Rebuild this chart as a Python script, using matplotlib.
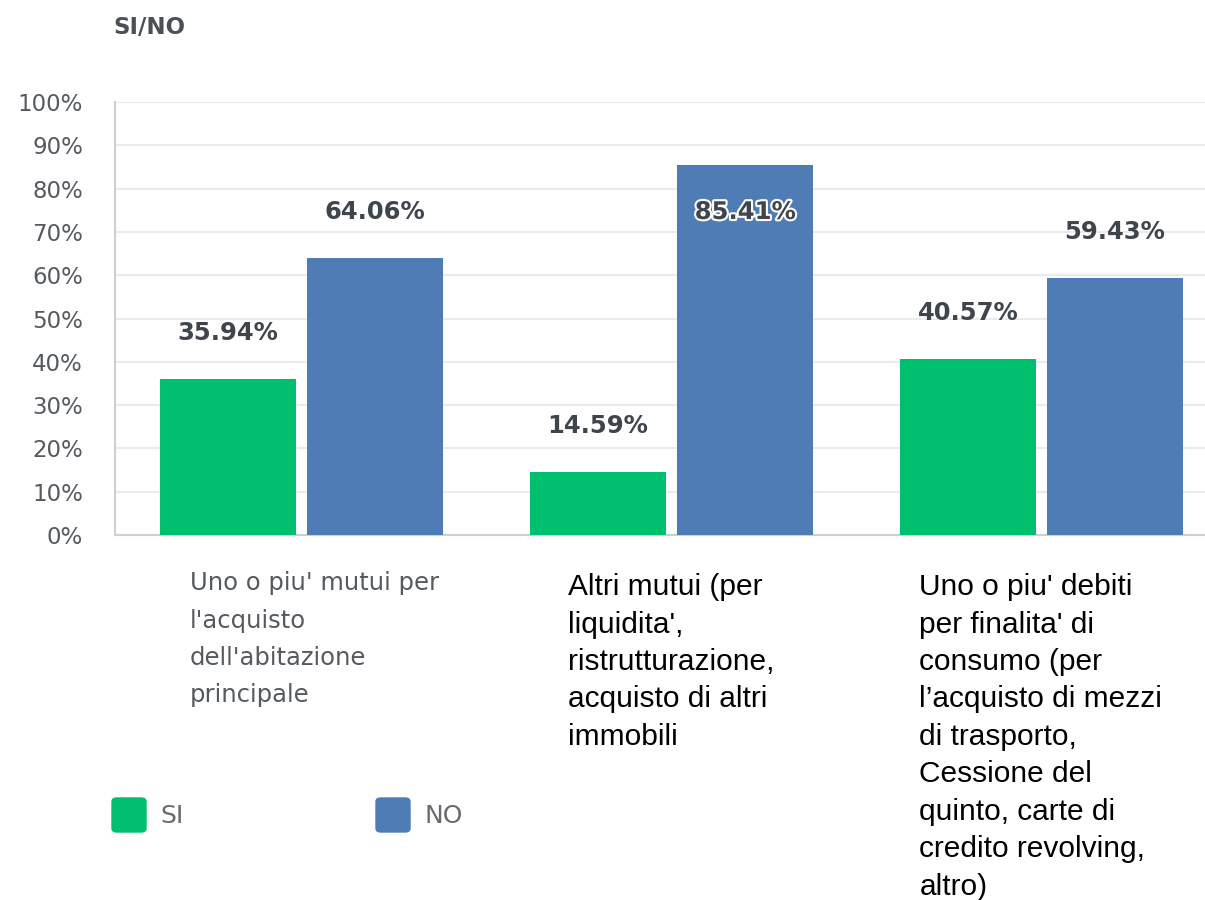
import matplotlib.pyplot as plt
from matplotlib.patches import FancyBboxPatch
from matplotlib import transforms
import matplotlib.patheffects as pe
import numpy as np

# data
categories = [
    "Uno o piu' mutui per\nl'acquisto\ndell'abitazione\nprincipale",
    "Altri mutui (per\nliquidita',\nristrutturazione,\nacquisto di altri\nimmobili",
    "Uno o piu' debiti\nper finalita' di\nconsumo (per\nl\u2019acquisto di mezzi\ndi trasporto,\nCessione del\nquinto, carte di\ncredito revolving,\naltro)",
]
si_values = [35.94, 14.59, 40.57]
no_values = [64.06, 85.41, 59.43]
series_names = ["SI", "NO"]
y_ticks = [0, 10, 20, 30, 40, 50, 60, 70, 80, 90, 100]

GREEN = "#00bf6f"
BLUE = "#507cb6"
LABEL_COLOR = "#3f454d"
TICK_COLOR = "#555a60"

fig = plt.figure(figsize=(12.05, 9), dpi=100)
ax = fig.add_axes([115 / 1205, 365 / 900, 1090 / 1205, 433 / 900])

x = np.arange(len(categories))
width = 0.368
off = 0.199
ax.bar(x - off, si_values, width, color=GREEN, zorder=3)
ax.bar(x + off, no_values, width, color=BLUE, zorder=3)

ax.set_xlim(-0.504, 2.442)
ax.set_ylim(0, 100)
ax.set_yticks(y_ticks)
ax.set_yticklabels([f"{t}%" for t in y_ticks], fontsize=16.5, color=TICK_COLOR)
ax.tick_params(axis="y", length=0, pad=23)
ax.set_xticks([])
ax.grid(axis="y", color="#ebebeb", lw=1.5, zorder=0)
for s in ["top", "right"]:
    ax.spines[s].set_visible(False)
for s in ["left", "bottom"]:
    ax.spines[s].set_color("#d0d0d0")
    ax.spines[s].set_linewidth(1.5)

# value labels
for vals, offs in [(si_values, -off), (no_values, off)]:
    for i, v in enumerate(vals):
        ly = min(v + 10.6, 74.6)
        t = ax.text(i + offs, ly, f"{v:.2f}%", ha="center", va="center",
                    fontsize=17.5, fontweight="bold", color=LABEL_COLOR, zorder=5)
        if ly < v:
            t.set_path_effects([pe.withStroke(linewidth=3, foreground="white")])

# category labels
trans = transforms.blended_transform_factory(ax.transData, ax.transAxes)
ax.text(-0.301, -0.084, categories[0], transform=trans, ha="left", va="top",
        fontsize=17.5, color="#555a60", linespacing=1.7)
ax.text(0.720, -0.088, categories[1], transform=trans, ha="left", va="top",
        fontsize=21.5, color="black", family="Liberation Sans", linespacing=1.43)
ax.text(1.670, -0.088, categories[2], transform=trans, ha="left", va="top",
        fontsize=21.5, color="black", family="Liberation Sans", linespacing=1.43)

# title
fig.text(113 / 1205, 1 - 27 / 900, "SI/NO", fontsize=16.5, fontweight="bold",
         color="#4a5058", ha="left", va="center")

# legend
for name, col, px in [(series_names[0], GREEN, 112), (series_names[1], BLUE, 376)]:
    box = FancyBboxPatch((px / 1205, 1 - 832 / 900), 34 / 1205, 34 / 900,
                         boxstyle="round,pad=0,rounding_size=0.004",
                         transform=fig.transFigure, color=col)
    fig.patches.append(box)
    fig.text((px + 48) / 1205, 1 - 816 / 900, name, fontsize=18,
             color="#666b70", ha="left", va="center")

fig.savefig("out.png", dpi=100)
